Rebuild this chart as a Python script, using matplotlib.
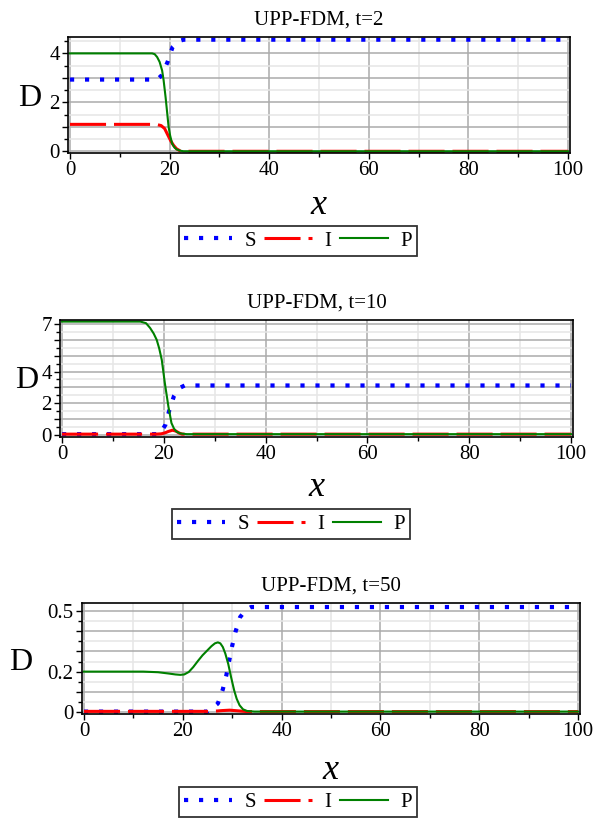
import matplotlib
matplotlib.use("Agg")
import matplotlib.pyplot as plt
from matplotlib.ticker import MultipleLocator, FixedLocator, FixedFormatter

plt.rcParams["font.family"] = ["Liberation Serif", "DejaVu Serif"]

W, H = 593, 821

# ---- data ----
# t = 2
s2_x = [0, 17.5, 18.4, 19.6, 20.6, 21.8, 22.8, 100]
s2_y = [2.93, 2.93, 3.1, 3.65, 4.26, 4.5, 4.56, 4.56]
i2_x = [0, 17.3, 18.3, 19.0, 19.8, 20.3, 20.8, 21.4, 22.1, 23.0, 100]
i2_y = [1.1, 1.1, 1.05, 0.93, 0.6, 0.4, 0.24, 0.1, 0.02, 0.0, 0.0]
p2_x = [0, 16.5, 17.0, 17.5, 18.0, 18.5, 18.8, 19.2, 19.5, 19.8, 20.1, 20.5, 21.0, 21.5, 22.0, 22.8, 100]
p2_y = [4.0, 4.0, 3.97, 3.85, 3.65, 3.3, 2.9, 2.2, 1.6, 1.0, 0.65, 0.32, 0.15, 0.07, 0.03, 0.0, 0.0]

# t = 10
s10_x = [0, 19.2, 20.3, 21.1, 22.0, 23.0, 24.1, 100]
s10_y = [0.05, 0.05, 0.63, 1.58, 2.46, 2.95, 3.12, 3.12]
i10_x = [0, 18.5, 19.5, 20.3, 20.9, 21.7, 22.4, 23.0, 23.6, 100]
i10_y = [0.05, 0.05, 0.07, 0.14, 0.22, 0.3, 0.24, 0.12, 0.05, 0.05]
p10_x = [0, 15.4, 16.5, 17.3, 18.0, 18.6, 19.1, 19.6, 20.2, 20.9, 21.5, 22.0, 22.5, 23.3, 24.5, 100]
p10_y = [7.15, 7.15, 7.05, 6.75, 6.4, 6.0, 5.45, 4.73, 3.27, 1.79, 0.75, 0.4, 0.2, 0.09, 0.05, 0.05]

# t = 50
s50_x = [0, 25.0, 27.1, 28.1, 28.8, 29.4, 30.0, 30.7, 31.6, 32.8, 33.8, 100]
s50_y = [0.002, 0.002, 0.042, 0.112, 0.18, 0.255, 0.328, 0.4, 0.47, 0.507, 0.52, 0.52]
i50_x = [0, 26, 28, 29.5, 31, 33, 100]
i50_y = [0.003, 0.003, 0.007, 0.009, 0.006, 0.002, 0.002]
p50_x = [0, 12, 15, 17, 18.5, 19.5, 20.3, 21.2, 22.1, 23.1, 24.0, 25.0, 25.8, 26.5, 27.1, 27.6,
         28.1, 28.6, 29.2, 29.8, 30.4, 30.9, 31.5, 32.2, 33.0, 34.5, 100]
p50_y = [0.2, 0.2, 0.197, 0.191, 0.186, 0.184, 0.186, 0.198, 0.222, 0.254, 0.281, 0.306, 0.326,
         0.34, 0.345, 0.34, 0.322, 0.29, 0.238, 0.17, 0.107, 0.066, 0.033, 0.013, 0.005, 0.002, 0.002]

titles = ["UPP-FDM, t=2", "UPP-FDM, t=10", "UPP-FDM, t=50"]
series = [
    (s2_x, s2_y, i2_x, i2_y, p2_x, p2_y),
    (s10_x, s10_y, i10_x, i10_y, p10_x, p10_y),
    (s50_x, s50_y, i50_x, i50_y, p50_x, p50_y),
]
y_major = [[0, 1, 2, 3, 4], [0, 1, 2, 3, 4, 5, 6, 7], [0, 0.1, 0.2, 0.3, 0.4, 0.5]]
y_labels = [["0", "", "2", "", "4"], ["0", "", "2", "", "4", "", "", "7"],
            ["0", "", "0.2", "", "", "0.5"]]
y_minor = [0.5, 0.5, 0.05]
y_lims = [(-0.07, 4.67), (-0.13, 7.25), (-0.01, 0.54)]

# layout in pixels: left, right, top, bottom
boxes = [(68, 570, 37, 153), (60, 573, 320, 437), (82, 580, 603, 714)]
d_pos = [(30, 98), (27, 380), (21, 662)]
x_pos = [(318, 205), (316, 487), (330, 770)]
leg_pos = [(298, 241), (291, 524), (298, 802)]

fig = plt.figure(figsize=(W / 100, H / 100), dpi=100)

for k in range(3):
    l, r, t, b = boxes[k]
    ax = fig.add_axes([l / W, 1 - b / H, (r - l) / W, (b - t) / H])
    sx, sy, ix, iy, px, py = series[k]
    ax.plot(sx, sy, color="#0000ff", lw=3, linestyle=(0, (1, 2.6)),
            dash_capstyle="butt", label="S")
    ax.plot(ix, iy, color="#ff0000", lw=2.2, linestyle=(0, (11.8, 2.6)),
            dash_capstyle="butt", label="I")
    ax.plot(px, py, color="#008000", lw=1.5, label="P")

    ax.set_xlim(-0.4, 100.4)
    ax.set_ylim(*y_lims[k])
    ax.xaxis.set_major_locator(MultipleLocator(20))
    ax.xaxis.set_minor_locator(MultipleLocator(10))
    ax.yaxis.set_major_locator(FixedLocator(y_major[k]))
    ax.yaxis.set_major_formatter(FixedFormatter(y_labels[k]))
    ax.yaxis.set_minor_locator(MultipleLocator(y_minor[k]))

    ax.grid(True, which="major", color="#ababab", lw=1.1)
    ax.grid(True, which="minor", color="#e6e6e6", lw=1.1)
    ax.set_axisbelow(True)
    ax.tick_params(which="major", direction="out", length=4, width=1,
                   labelsize=15, pad=2)
    ax.tick_params(which="minor", direction="out", length=3, width=1)
    for sp in ax.spines.values():
        sp.set_linewidth(1.2)

    ax.set_title(titles[k], fontsize=15, pad=9)

    ax.set_ylabel("D", rotation=0, fontsize=23, va="center", ha="center")
    ax.yaxis.set_label_coords(d_pos[k][0] / W, 1 - d_pos[k][1] / H,
                              transform=fig.transFigure)
    ax.set_xlabel("x", fontsize=26, style="italic", va="center", ha="center")
    ax.xaxis.set_label_coords(x_pos[k][0] / W, 1 - x_pos[k][1] / H,
                              transform=fig.transFigure)

    leg = ax.legend(loc="center", ncol=3, fontsize=15,
                    bbox_to_anchor=(leg_pos[k][0] / W, 1 - leg_pos[k][1] / H),
                    bbox_transform=fig.transFigure, frameon=True, fancybox=False,
                    handlelength=2.3, handletextpad=0.6, columnspacing=0.4,
                    borderpad=0.25, borderaxespad=0)
    leg.get_frame().set_edgecolor("black")
    leg.get_frame().set_linewidth(1.3)

fig.savefig("out.png", dpi=100)
